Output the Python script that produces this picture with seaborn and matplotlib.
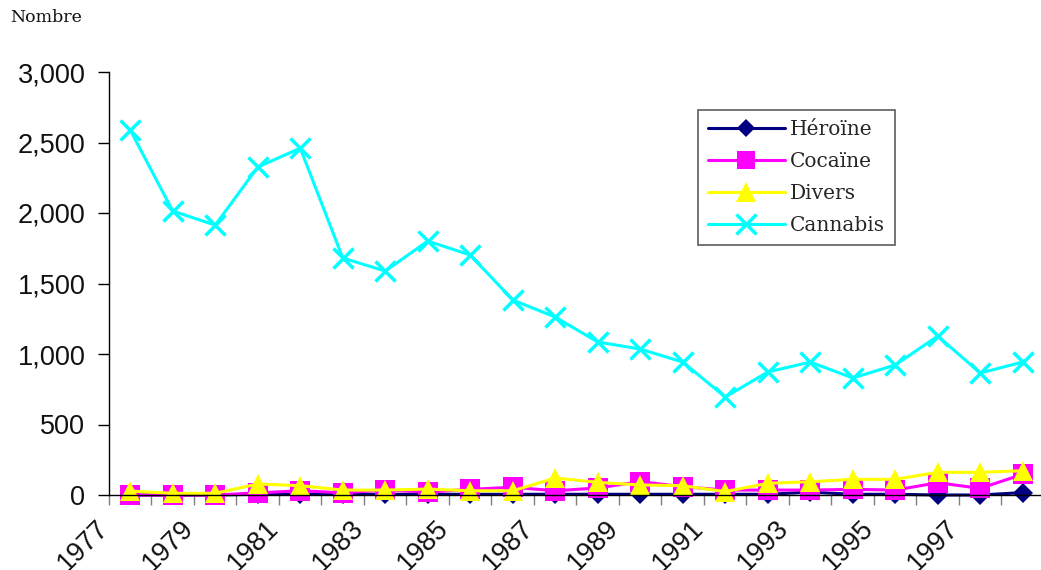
import numpy as np
import pandas as pd
import seaborn as sns
import matplotlib
matplotlib.use("Agg")
import matplotlib.pyplot as plt
import matplotlib.transforms as mtransforms
from matplotlib.ticker import FuncFormatter, FixedLocator

years = list(range(1977, 1999))
heroine = [0, 0, 0, 5, 5, 5, 5, 5, 5, 5, 5, 5, 5, 5, 5, 5, 20, 5, 5, 0, 0, 17]
cocaine = [0, 0, 0, 15, 30, 16, 35, 21, 40, 55, 30, 50, 95, 59, 35, 35, 35, 40, 35, 87, 47, 147]
divers = [28, 12, 12, 78, 66, 35, 35, 42, 30, 30, 120, 90, 71, 66, 24, 83, 94, 111, 111, 161, 161, 172]
cannabis = [2588, 2014, 1914, 2326, 2460, 1681, 1588, 1801, 1702, 1383, 1262, 1085, 1035,
            943, 695, 872, 943, 830, 922, 1127, 865, 943]
series_names = ["Héroïne", "Cocaïne", "Divers", "Cannabis"]
tick_years = [str(y) for y in range(1977, 1999, 2)]

sns.set_theme(style="white")
plt.rcParams['font.family'] = ['Liberation Sans', 'DejaVu Sans']

fig = plt.figure(figsize=(10.41, 5.70), dpi=100)
ax = fig.add_axes([109/1041, 1 - 495/570, (1041 - 109)/1041, (495 - 72)/570])

idx = np.arange(len(years))
styles = {
    "Héroïne": dict(color="#000080", marker="D", markersize=10, markeredgewidth=0),
    "Cocaïne": dict(color="#FF00FF", marker="s", markersize=14, markeredgewidth=0),
    "Divers": dict(color="#FFFF00", marker="^", markersize=15, markeredgewidth=0),
    "Cannabis": dict(color="#00FFFF", marker="x", markersize=15, markeredgewidth=2.5),
}
values = {"Héroïne": heroine, "Cocaïne": cocaine, "Divers": divers, "Cannabis": cannabis}
for name in series_names:
    df = pd.DataFrame({"x": idx, "y": values[name]})
    st = styles[name]
    sns.lineplot(data=df, x="x", y="y", ax=ax, color=st["color"], linewidth=2.2,
                 marker=st["marker"], markersize=st["markersize"],
                 markeredgewidth=st["markeredgewidth"], markeredgecolor=st["color"],
                 markerfacecolor=st["color"], label=name, clip_on=False)

ax.set_xlim(-0.5, 21.43)
ax.set_ylim(0, 3000)
ax.set_xlabel("")
ax.set_ylabel("")
for s in ["top", "right"]:
    ax.spines[s].set_visible(False)
for s in ["left", "bottom"]:
    ax.spines[s].set_color("black")
    ax.spines[s].set_linewidth(1.0)

ax.set_yticks([0, 500, 1000, 1500, 2000, 2500, 3000])
ax.yaxis.set_major_formatter(FuncFormatter(lambda v, p: f"{int(v):,}"))
ax.tick_params(axis="y", which="major", left=True, length=8, width=1, color="black",
               labelsize=19.5, pad=9, labelcolor="#111111")

ax.set_xticks(idx[::2])
ax.set_xticklabels(tick_years)
ax.xaxis.set_minor_locator(FixedLocator(np.arange(-0.5, 21.5, 1.0)))
ax.tick_params(axis="x", which="major", bottom=True, length=0, labelsize=19.5, pad=10,
               labelcolor="#111111")
ax.tick_params(axis="x", which="minor", bottom=True, length=7, width=1, color="#808080")
offset = mtransforms.ScaledTranslation(-35/100, -6/100, fig.dpi_scale_trans)
for lab in ax.get_xticklabels():
    lab.set_rotation(45)
    lab.set_ha("right")
    lab.set_va("top")
    lab.set_rotation_mode("anchor")
    lab.set_transform(lab.get_transform() + offset)

leg = ax.legend(loc="upper left", bbox_to_anchor=(698/1041, 1 - 110/570),
                bbox_transform=fig.transFigure, frameon=True, fancybox=False,
                prop={"family": "DejaVu Serif", "size": 14.5}, handlelength=3.8,
                borderpad=0.5, labelspacing=0.64, handletextpad=0.25, borderaxespad=0)
leg.get_frame().set_edgecolor("#333333")
leg.get_frame().set_linewidth(1.2)
for h in leg.legend_handles:
    h.set_markersize(h.get_markersize() * 0.95)

fig.text(10/1041, 1 - 18/570, "Nombre", fontsize=12.5, family="DejaVu Serif",
         va="center", ha="left", color="#111111")

fig.savefig("out.png", dpi=100)
